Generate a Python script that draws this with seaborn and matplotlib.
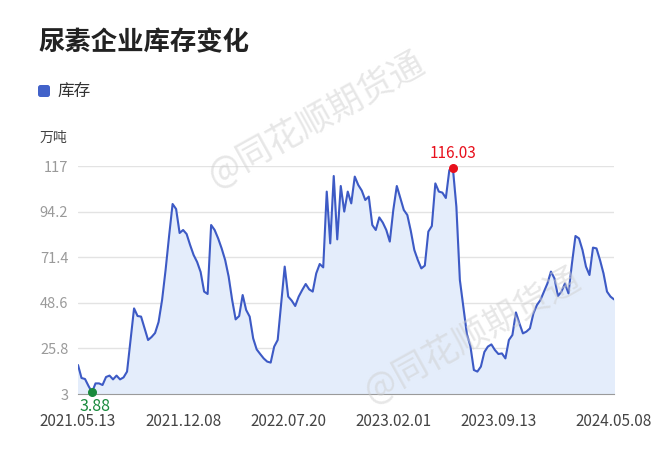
import pandas as pd
import matplotlib.pyplot as plt
import matplotlib.transforms as mtransforms
from matplotlib.patches import FancyBboxPatch
import seaborn as sns

# weekly urea enterprise inventory (10k tonnes)
values = [
    17.5, 11, 10.5, 7, 3.88, 8.3, 8.3, 7.5, 11.5, 12.2,
    10.3, 12.2, 10.3, 11.3, 14.2, 30, 45.8, 42, 41.7, 35.8,
    30, 31.5, 33.5, 39, 50, 65, 82, 98, 95.5, 83.5,
    85, 83, 77.5, 72.5, 69, 64, 54.2, 53, 87.5, 85,
    80.8, 75.8, 70, 61.7, 50, 40.3, 42, 52.5, 45, 41.7,
    30.8, 25.3, 23, 20.8, 19.2, 18.7, 26.7, 30, 48.3, 66.7,
    51.7, 49.7, 47, 51.7, 55, 58, 55.3, 54.2, 63.3, 68,
    66.3, 104.2, 78.3, 112, 80.3, 107, 94.2, 104.2, 98.3, 111.7,
    107.5, 104.7, 100, 101.7, 87.5, 85, 91.3, 88.7, 85, 79.2,
    95, 107, 101, 95, 92.5, 84.5, 75, 70, 65.8, 67.2,
    84.2, 87, 108.3, 104.2, 103.7, 101, 115, 116.03, 96.7, 60,
    46.7, 33, 27, 15, 14.2, 16.7, 24, 26.7, 27.8, 25,
    23, 23.3, 20.8, 30, 32.5, 43.8, 38.3, 33.3, 34.2, 35.8,
    43.3, 47.5, 50, 54.2, 58.3, 64.2, 60.8, 52, 54.2, 58.3,
    53.3, 68.3, 82, 80.8, 75, 66.7, 62.5, 76.2, 75.8, 70,
    63.3, 54.2, 51.7, 50.3,
]
date_labels = ['2021.05.13', '2021.12.08', '2022.07.20', '2023.02.01', '2023.09.13', '2024.05.08']
date_index = [0, 30, 60, 90, 120, 153]
y_ticks = [3, 25.8, 48.6, 71.4, 94.2, 117]

df = pd.DataFrame({'idx': range(len(values)), 'value': values})

sns.set_style('white')
plt.rcParams['font.family'] = ['Noto Sans CJK SC', 'DejaVu Sans']

W, H = 660, 449
fig = plt.figure(figsize=(W / 100, H / 100), dpi=100)
ax = fig.add_axes([78 / W, 1 - 394 / H, 536 / W, 228 / H])

# area + line
ax.fill_between(df['idx'], df['value'], y_ticks[0], color='#e4edfb', zorder=1)
sns.lineplot(data=df, x='idx', y='value', color='#3d5ac5', linewidth=1.5, ax=ax, zorder=3)

ax.set_xlim(0, len(values) - 1)
ax.set_ylim(y_ticks[0], y_ticks[-1])

# max / min markers
imax = df['value'].idxmax()
imin = df['value'].idxmin()
ax.scatter([imax], [values[imax]], s=30, color='#e8101c', zorder=5, clip_on=False)
ax.scatter([imin], [values[imin]], s=30, color='#188a3c', zorder=5, clip_on=False)
ax.annotate(f'{values[imax]:.2f}', (imax, values[imax]), xytext=(0, 4), textcoords='offset points',
            ha='center', va='bottom', color='#e8101c', fontsize=11)
ax.annotate(f'{values[imin]:.2f}', (imin, values[imin]), xytext=(2, -4), textcoords='offset points',
            ha='center', va='top', color='#188a3c', fontsize=11.5)

# axes styling
ax.set_yticks(y_ticks)
ax.set_yticklabels([f'{v:g}' for v in y_ticks])
ax.set_xticks(date_index)
ax.set_xticklabels(date_labels)
ax.yaxis.grid(True, color='#e3e3e3', linewidth=1)
ax.set_axisbelow(True)
for side in ['left', 'top', 'right']:
    ax.spines[side].set_visible(False)
ax.spines['bottom'].set_color('#9a9a9a')
ax.tick_params(axis='y', length=0, pad=7, labelsize=10.5, labelcolor='#9a9a9a')
ax.tick_params(axis='x', length=5, width=1, color='#9a9a9a', pad=9, labelsize=11, labelcolor='#444444')
ax.set_xlabel('')
ax.set_ylabel('')

# title, legend, unit
fig.text(38 / W, 1 - 43 / H, '尿素企业库存变化', fontsize=19, fontweight='bold', color='#222222',
         ha='left', va='center')
fig.patches.append(FancyBboxPatch((38, H - 97), 12, 12, boxstyle='round,pad=0,rounding_size=2.5',
                                  facecolor='#4262c9', edgecolor='none',
                                  transform=mtransforms.IdentityTransform(), figure=fig))
fig.text(57 / W, 1 - 91 / H, '库存', fontsize=12, color='#333333', ha='left', va='center')
fig.text(40 / W, 1 - 138 / H, '万吨', fontsize=10, color='#444444', ha='left', va='center')

# watermarks
for cx, cy in [(316, 120), (472, 336)]:
    fig.text(cx / W, 1 - cy / H, '@同花顺期货通', fontsize=25, color='#cfcfcf', alpha=0.5,
             rotation=29, ha='center', va='center', zorder=10)

fig.savefig('out.png', dpi=100)
